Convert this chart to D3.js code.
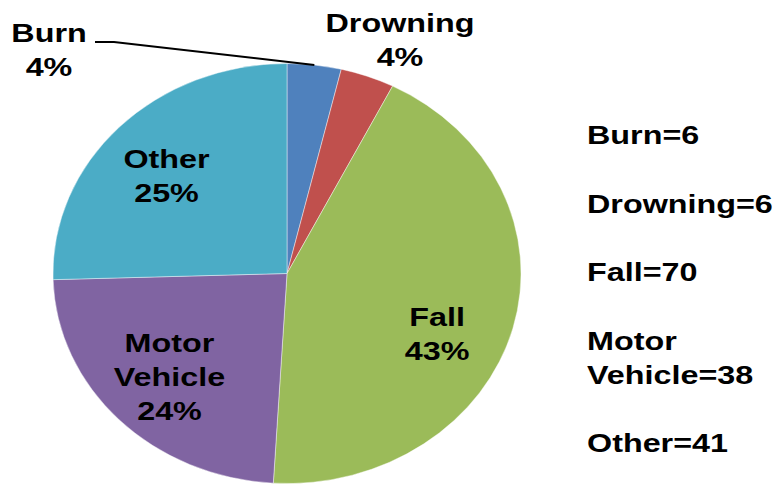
<!DOCTYPE html>
<html>
<head>
<meta charset="utf-8">
<script src="https://cdn.jsdelivr.net/npm/d3@7"></script>
<style>
  body { margin: 0; background: #fff; }
  text { font-family: "Liberation Sans", Arial, sans-serif; font-weight: bold; fill: #000; }
</style>
</head>
<body>
<div id="chart"></div>
<script>
// data
const categories = ["Burn", "Drowning", "Fall", "Motor Vehicle", "Other"];
const counts = [6, 6, 70, 38, 41];
const percentLabels = ["4%", "4%", "43%", "24%", "25%"];
const sliceColors = ["#4F81BD", "#C0504D", "#9BBB59", "#8064A2", "#4BACC6"];

const width = 781, height = 485;
const cx = 287, cy = 273.5;
const rx = 234, ry = 210;          // the pie is drawn slightly stretched sideways
const stretch = 1.22;              // text is stretched too
const fontSize = 26.5, lineH = 34;

// label placement: inner labels use the centroid, tweaked; outer ones sit at fixed spots
const labelNudge = { "Fall": [-8, 22], "Other": [-3, 5], "Motor Vehicle": [0, 1] };
const outsideLabels = { "Burn": [49, 33], "Drowning": [400, 23] };

const svg = d3.select("#chart").append("svg")
    .attr("width", width)
    .attr("height", height);

const pie = d3.pie().sort(null).value(d => d.count);
const arcs = pie(categories.map((c, i) => ({ name: c, count: counts[i], pct: percentLabels[i], color: sliceColors[i] })));

const arc = d3.arc().innerRadius(0).outerRadius(ry);
const labelArc = d3.arc().innerRadius(ry * 0.7).outerRadius(ry * 0.7);
const edgeArc = d3.arc().innerRadius(ry).outerRadius(ry);

const pieG = svg.append("g")
    .attr("transform", `translate(${cx},${cy}) scale(${rx / ry},1)`);

pieG.selectAll("path")
    .data(arcs)
    .enter()
    .append("path")
    .attr("d", arc)
    .attr("fill", d => d.data.color)
    .attr("stroke", "#ffffff")
    .attr("stroke-opacity", 0.5)
    .attr("stroke-width", 0.8);

// maps a point from pie space to page space
const toPage = p => [cx + p[0] * rx / ry, cy + p[1]];

const drawLines = (lines, x, y, anchor) => {
    const g = svg.append("g").attr("transform", `translate(${x},${y}) scale(${stretch},1)`);
    lines.forEach((t, i) => {
        g.append("text")
            .attr("x", 0)
            .attr("y", i * lineH)
            .attr("dy", "0.35em")
            .attr("text-anchor", anchor)
            .attr("font-size", fontSize)
            .text(t);
    });
};

arcs.forEach(d => {
    const name = d.data.name;
    const lines = name.split(" ").concat([d.data.pct]);
    if (outsideLabels[name]) {
        const [x, y] = outsideLabels[name];
        drawLines(lines, x, y, "middle");
    } else {
        const [x, y] = toPage(labelArc.centroid(d));
        const n = labelNudge[name] || [0, 0];
        drawLines(lines, x + n[0], y + n[1] - (lines.length - 1) * lineH / 2, "middle");
    }
});

// leader line for Burn
const burn = arcs[0];
const tip = toPage(edgeArc.centroid(burn));
svg.append("path")
    .attr("d", d3.line()([[95, 42], [114, 42], tip]))
    .attr("fill", "none")
    .attr("stroke", "#000")
    .attr("stroke-width", 2);

// legend text on the right
let ly = 135;
arcs.forEach(d => {
    const words = d.data.name.split(" ");
    const lines = words.length > 1
        ? words.slice(0, -1).concat([words[words.length - 1] + "=" + d.data.count])
        : [d.data.name + "=" + d.data.count];
    drawLines(lines, 587, ly, "start");
    ly += 68.5 + (lines.length - 1) * lineH;
});
</script>
</body>
</html>
